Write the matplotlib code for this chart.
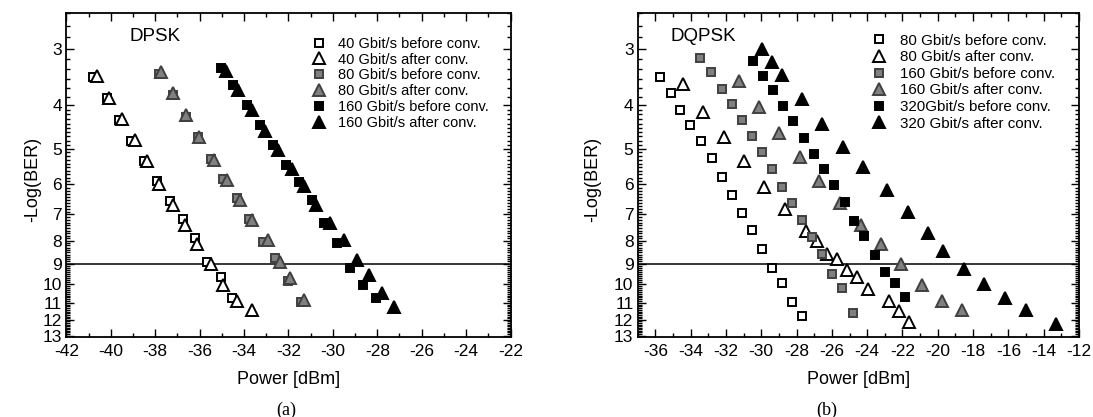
import numpy as np
import matplotlib
matplotlib.use("Agg")
import matplotlib.pyplot as plt
from matplotlib.ticker import FixedLocator, NullFormatter, FixedFormatter

plt.rcParams['font.family'] = ['Liberation Sans', 'DejaVu Sans']
plt.rcParams['axes.unicode_minus'] = False

# ---------------- Panel (a) DPSK ----------------
dpsk_40_before_x = [-40.78, -40.18, -39.61, -39.09, -38.50, -37.93, -37.33, -36.77, -36.20, -35.68, -35.03, -34.52]
dpsk_40_before_y = [3.46, 3.87, 4.31, 4.81, 5.33, 5.91, 6.52, 7.16, 7.89, 8.92, 9.64, 10.73]
dpsk_40_after_x = [-40.63, -40.06, -39.49, -38.89, -38.38, -37.81, -37.21, -36.65, -36.11, -35.50, -34.93, -34.33, -33.65]
dpsk_40_after_y = [3.45, 3.87, 4.29, 4.79, 5.33, 5.98, 6.68, 7.40, 8.14, 9.00, 10.02, 10.91, 11.39]
dpsk_80_before_x = [-37.81, -37.18, -36.62, -36.05, -35.50, -34.93, -34.33, -33.77, -33.15, -32.60, -32.00, -31.44]
dpsk_80_before_y = [3.42, 3.81, 4.25, 4.72, 5.27, 5.85, 6.45, 7.18, 8.07, 8.76, 9.85, 10.97]
dpsk_80_after_x = [-37.75, -37.18, -36.61, -36.01, -35.35, -34.78, -34.18, -33.65, -32.94, -32.37, -31.92, -31.32]
dpsk_80_after_y = [3.38, 3.77, 4.22, 4.71, 5.29, 5.87, 6.51, 7.21, 7.99, 8.94, 9.68, 10.82]
dpsk_160_before_x = [-35.03, -34.48, -33.88, -33.27, -32.70, -32.10, -31.53, -30.95, -30.39, -29.82, -29.22, -28.65, -28.05]
dpsk_160_before_y = [3.31, 3.62, 4.01, 4.44, 4.92, 5.45, 5.94, 6.49, 7.31, 8.10, 9.20, 10.06, 10.73]
dpsk_160_after_x = [-34.82, -34.25, -33.65, -33.05, -32.45, -31.85, -31.32, -30.75, -30.12, -29.52, -28.92, -28.39, -27.79, -27.24]
dpsk_160_after_y = [3.36, 3.71, 4.11, 4.56, 5.04, 5.54, 6.06, 6.66, 7.31, 7.99, 8.85, 9.52, 10.46, 11.23]

dpsk_labels = ["40 Gbit/s before conv.", "40 Gbit/s after conv.",
               "80 Gbit/s before conv.", "80 Gbit/s after conv.",
               "160 Gbit/s before conv.", "160 Gbit/s after conv."]

# ---------------- Panel (b) DQPSK ----------------
dqpsk_80_before_x = [-35.74, -35.13, -34.60, -34.04, -33.43, -32.81, -32.21, -31.64, -31.07, -30.51, -29.94, -29.37, -28.81, -28.24, -27.67]
dqpsk_80_before_y = [3.47, 3.76, 4.10, 4.44, 4.81, 5.24, 5.78, 6.35, 6.95, 7.57, 8.34, 9.19, 9.95, 10.96, 11.79]
dqpsk_80_after_x = [-34.41, -33.28, -32.11, -30.96, -29.83, -28.65, -27.48, -26.86, -26.29, -25.73, -25.16, -24.59, -23.93, -22.74, -22.18, -21.61]
dqpsk_80_after_y = [3.60, 4.14, 4.71, 5.33, 6.08, 6.82, 7.62, 8.00, 8.56, 8.78, 9.29, 9.64, 10.24, 10.92, 11.47, 12.14]
dqpsk_160_before_x = [-33.47, -32.85, -32.24, -31.68, -31.11, -30.54, -29.94, -29.41, -28.84, -28.28, -27.71, -27.11, -26.58, -25.97, -25.41, -24.78]
dqpsk_160_before_y = [3.14, 3.38, 3.68, 3.99, 4.31, 4.69, 5.10, 5.54, 6.08, 6.60, 7.21, 7.86, 8.56, 9.48, 10.20, 11.59]
dqpsk_160_after_x = [-31.24, -30.11, -28.98, -27.80, -26.71, -25.54, -24.37, -23.23, -22.10, -20.91, -19.78, -18.64]
dqpsk_160_after_y = [3.54, 4.05, 4.61, 5.22, 5.90, 6.60, 7.40, 8.13, 9.01, 10.03, 10.87, 11.43]
dqpsk_320_before_x = [-30.49, -29.92, -29.35, -28.79, -28.18, -27.58, -27.01, -26.44, -25.86, -25.25, -24.75, -24.18, -23.56, -22.99, -22.42, -21.86]
dqpsk_320_before_y = [3.19, 3.45, 3.71, 4.03, 4.34, 4.73, 5.13, 5.54, 6.03, 6.57, 7.24, 7.83, 8.63, 9.40, 9.95, 10.68]
dqpsk_320_after_x = [-29.98, -29.41, -28.84, -27.71, -26.58, -25.39, -24.25, -22.89, -21.70, -20.53, -19.68, -18.51, -17.38, -16.19, -15.00, -13.30]
dqpsk_320_after_y = [3.00, 3.21, 3.44, 3.89, 4.42, 4.96, 5.49, 6.19, 6.92, 7.70, 8.44, 9.24, 9.98, 10.72, 11.43, 12.24]

dqpsk_labels = ["80 Gbit/s before conv.", "80 Gbit/s after conv.",
                "160 Gbit/s before conv.", "160 Gbit/s after conv.",
                "320Gbit/s before conv.", "320 Gbit/s after conv."]

y_major = [3, 4, 5, 6, 7, 8, 9, 10, 11, 12, 13]
ber_limit = 9

fig = plt.figure(figsize=(10.93, 4.17), dpi=100)
axA = fig.add_axes([0.0607, 0.1918, 0.4064, 0.777])
axB = fig.add_axes([0.5834, 0.1918, 0.4038, 0.777])

styles = [
    dict(marker='s', ms=6.2, mfc='white', mec='black'),
    dict(marker='^', ms=8.5, mfc='white', mec='black'),
    dict(marker='s', ms=6.2, mfc='#808080', mec='#404040'),
    dict(marker='^', ms=8.5, mfc='#808080', mec='#404040'),
    dict(marker='s', ms=6.2, mfc='black', mec='black'),
    dict(marker='^', ms=8.5, mfc='black', mec='black'),
]

def minor_y():
    m = []
    for k in range(0, 9):
        m.append(2.5 + k / 6.0)
    for k in range(0, 91):
        m.append(4.0 + k * 0.1)
    return [t for t in m if all(abs(t - M) > 1e-6 for M in y_major)]

def style_axes(ax, xmin, xmax, xmaj):
    ax.set_yscale('log')
    ax.set_ylim(13.1, 2.5)
    ax.set_xlim(xmin, xmax)
    ax.yaxis.set_major_locator(FixedLocator(y_major))
    ax.yaxis.set_major_formatter(FixedFormatter([str(v) for v in y_major]))
    ax.yaxis.set_minor_locator(FixedLocator(minor_y()))
    ax.yaxis.set_minor_formatter(NullFormatter())
    ax.xaxis.set_major_locator(FixedLocator(xmaj))
    ax.xaxis.set_major_formatter(FixedFormatter([str(v) for v in xmaj]))
    ax.xaxis.set_minor_locator(FixedLocator(np.arange(xmin, xmax + 0.5, 1.0)))
    ax.tick_params(which='both', direction='in', top=True, right=True, width=1.0)
    ax.tick_params(which='major', length=6, labelsize=12.5)
    ax.tick_params(which='minor', length=3)
    ax.tick_params(axis='x', which='major', pad=5)
    ax.tick_params(axis='y', which='major', pad=3)
    for s in ax.spines.values():
        s.set_linewidth(1.3)
    ax.axhline(ber_limit, color='black', lw=1.1, zorder=1)
    ax.set_xlabel('Power [dBm]', fontsize=13)
    ax.set_ylabel('-Log(BER)', fontsize=13)
    ax.xaxis.set_label_coords(0.5, -0.105)

style_axes(axA, -42, -22, list(range(-42, -21, 2)))
style_axes(axB, -37, -12, list(range(-36, -11, 2)))
axA.yaxis.set_label_coords(-0.056, 0.485)
axB.yaxis.set_label_coords(-0.082, 0.485)

seriesA = [(dpsk_40_before_x, dpsk_40_before_y), (dpsk_40_after_x, dpsk_40_after_y),
           (dpsk_80_before_x, dpsk_80_before_y), (dpsk_80_after_x, dpsk_80_after_y),
           (dpsk_160_before_x, dpsk_160_before_y), (dpsk_160_after_x, dpsk_160_after_y)]
seriesB = [(dqpsk_80_before_x, dqpsk_80_before_y), (dqpsk_80_after_x, dqpsk_80_after_y),
           (dqpsk_160_before_x, dqpsk_160_before_y), (dqpsk_160_after_x, dqpsk_160_after_y),
           (dqpsk_320_before_x, dqpsk_320_before_y), (dqpsk_320_after_x, dqpsk_320_after_y)]

for ax, series, labels in [(axA, seriesA, dpsk_labels), (axB, seriesB, dqpsk_labels)]:
    for (x, y), st, lab in zip(series, styles, labels):
        ax.plot(x, y, linestyle='none', mew=1.4, label=lab, zorder=3, **st)

legA = axA.legend(loc='upper left', bbox_to_anchor=(0.5525, 0.927), frameon=False,
                  fontsize=10.5, handlelength=1.0, handletextpad=0.8, labelspacing=0.13,
                  borderaxespad=0, borderpad=0)
legB = axB.legend(loc='upper left', bbox_to_anchor=(0.5296, 0.936), frameon=False,
                  fontsize=10.9, handlelength=1.0, handletextpad=0.89, labelspacing=0.17,
                  borderaxespad=0, borderpad=0)

axA.text(0.143, 0.926, 'DPSK', transform=axA.transAxes, fontsize=13.5, va='center', ha='left')
axB.text(0.075, 0.929, 'DQPSK', transform=axB.transAxes, fontsize=13.5, va='center', ha='left')

fig.text(286 / 1093, 1 - 410 / 417, '(a)', ha='center', va='center', fontsize=13,
         family=['Liberation Serif', 'DejaVu Serif'])
fig.text(827 / 1093, 1 - 410 / 417, '(b)', ha='center', va='center', fontsize=13,
         family=['Liberation Serif', 'DejaVu Serif'])

fig.savefig('out.png', dpi=100)
